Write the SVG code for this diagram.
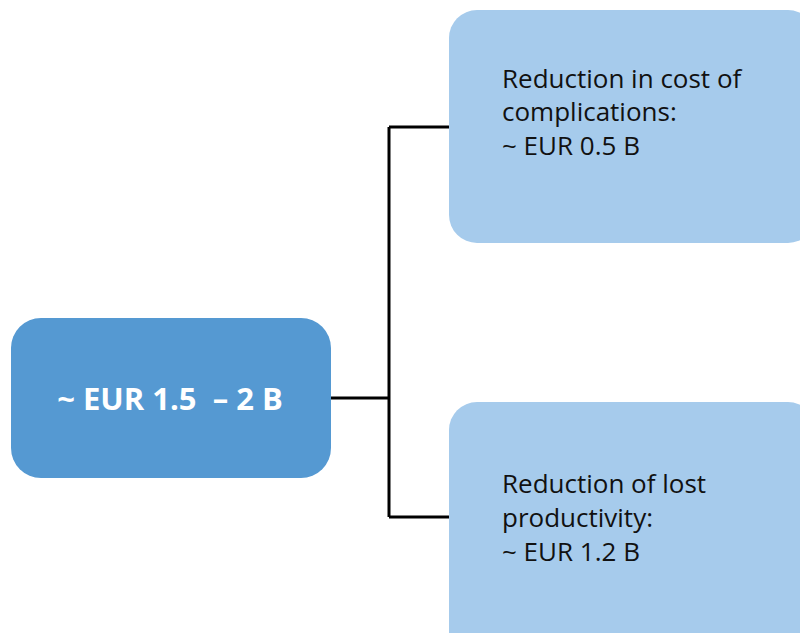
<svg xmlns="http://www.w3.org/2000/svg" width="800" height="633" viewBox="0 0 800 633">
<style>
.dark{fill:#5599D2}
.light{fill:#A6CBEC}
.conn{stroke:#000;stroke-width:3;fill:none}
.t{font-family:"Open Sans","Noto Sans",sans-serif;font-size:26px;fill:#111}
.tb{font-family:"Open Sans","Noto Sans",sans-serif;font-size:31px;font-weight:bold;fill:#fff}
</style>
<rect width="800" height="633" fill="#fff"/>
<g id="connectors">
<path class="conn" d="M331 398H389M389 127V517M389 127H449M389 517H449"/>
</g>
<g id="total">
<rect class="dark" x="11" y="318" width="320" height="160" rx="30"/>
<text class="tb" x="170" y="410" text-anchor="middle" xml:space="preserve">~ EUR 1.5  – 2 B</text>
</g>
<g id="complications">
<rect class="light" x="449" y="10" width="367" height="233" rx="28"/>
<text class="t" x="502"><tspan x="502" y="88">Reduction in cost of</tspan><tspan x="502" y="121">complications:</tspan><tspan x="502" y="155">~ EUR 0.5 B</tspan></text>
</g>
<g id="productivity">
<rect class="light" x="449" y="402" width="367" height="260" rx="28"/>
<text class="t" x="502"><tspan x="502" y="493">Reduction of lost</tspan><tspan x="502" y="527">productivity:</tspan><tspan x="502" y="561">~ EUR 1.2 B</tspan></text>
</g>
</svg>
